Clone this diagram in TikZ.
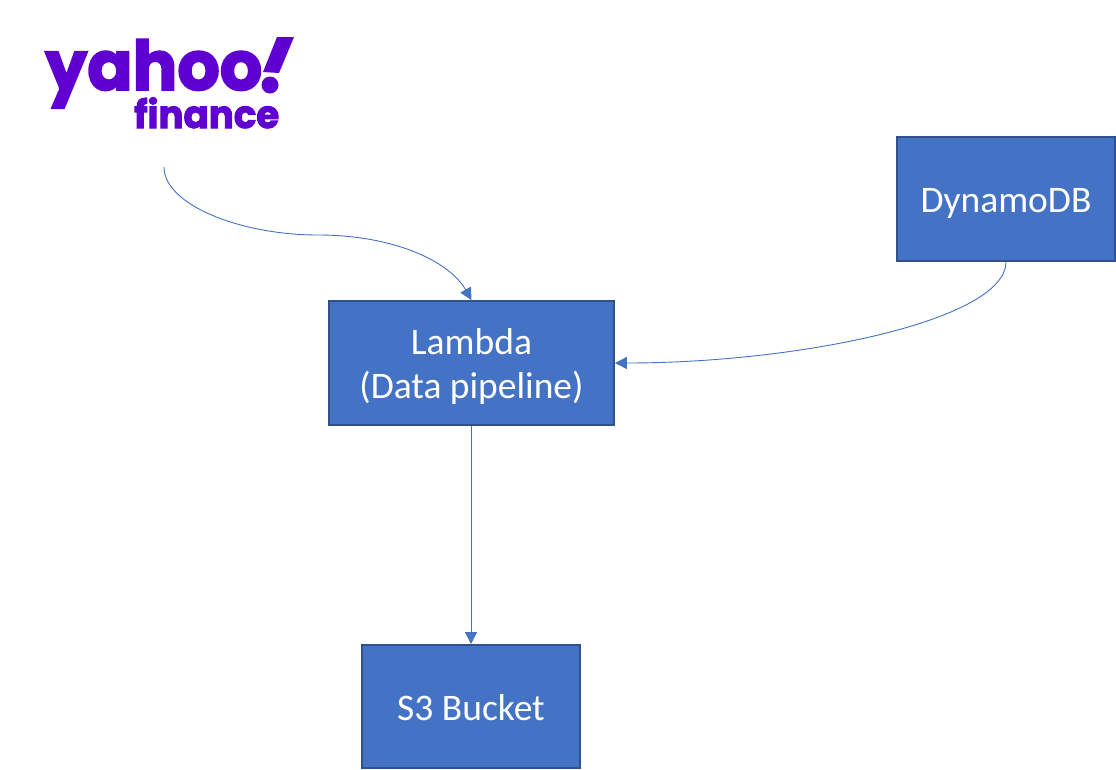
\documentclass[tikz,border=0pt]{standalone}
\usepackage{fontspec}
\setmainfont{Carlito}
\newfontfamily\logofont[FakeBold=2.6]{Poppins}
\usetikzlibrary{arrows.meta}
\definecolor{boxfill}{HTML}{4472C4}
\definecolor{boxline}{HTML}{2F528F}
\definecolor{yahoo}{HTML}{5F01D1}
\newcommand{\lowered}[2]{\raisebox{-#1pt}[\height][\depth]{#2}}
\tikzset{
  x=1pt,y=-1pt,
  box/.style={draw=boxline,line width=1.8pt,fill=boxfill,text=white,align=center,inner sep=0pt,font=\fontsize{37.5}{45}\selectfont},
  conn/.style={draw=boxfill,line width=0.9pt,-{Triangle[length=12pt,width=12pt]}},
  logo/.style={text=yahoo,inner sep=0pt,anchor=base west}
}
\begin{document}
\begin{tikzpicture}
\useasboundingbox (0,0) rectangle (1116,769);
\node[box,minimum width=285pt,minimum height=124pt] (lam) at (471.5,363) {\lowered{4}{Lambda}\\\lowered{2.5}{(Data pipeline)}};
\node[box,minimum width=218pt,minimum height=124pt] (dyn) at (1006,199) {\lowered{4}{DynamoDB}};
\node[box,minimum width=218pt,minimum height=123pt] (s3) at (471,706.5) {\lowered{1}{S3 Bucket}};
\node[logo] (yh) at (45,90) {\resizebox*{217pt}{69pt}{\logofont\bfseries yahoo}};
\node[logo] (fin) at (134,128) {\resizebox*{145pt}{31pt}{\logofont\bfseries finance}};
\fill[yahoo] (277,37) -- (294,37) -- (279,73) -- (263,72) -- cycle;
\fill[yahoo] (270,85) circle (8.5pt);
\coordinate (start) at (164,167);
\draw[conn] (start) .. controls (164,205) and (241,235) .. (318,235) .. controls (395,235) and (450,262) .. (lam.north);
\draw[conn] (dyn.south) .. controls (1006,320) and (800,363) .. (lam.east);
\draw[conn] (s3.north |- lam.south) -- (s3.north);
\end{tikzpicture}
\end{document}
